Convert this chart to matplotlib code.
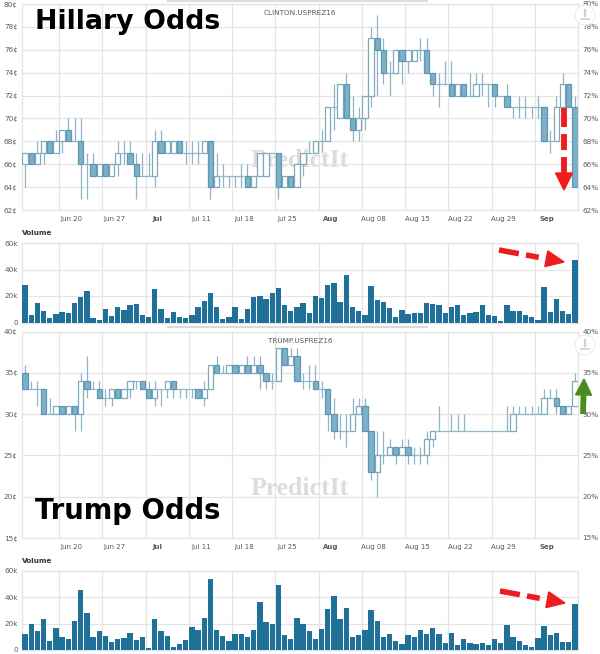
import matplotlib
matplotlib.use('Agg')
import numpy as np
import matplotlib.pyplot as plt
from matplotlib.patches import Polygon, Circle

W, H = 600, 654

# one candle per day, left to right
h_open = [66,67,66,67,68,67,68,69,68,68,66,66,65,66,65,66,67,67,66,65,65,65,68,67,67,68,67,67,67,67,
          68,64,65,65,65,65,65,64,65,65,67,67,64,65,64,66,67,67,68,68,71,70,73,70,69,70,72,77,76,74,
          74,76,75,75,76,76,74,73,73,73,72,73,72,72,73,73,73,72,72,71,71,71,71,71,71,68,68,71,73,71]
h_close = [67,66,67,68,67,68,69,68,68,66,66,65,66,65,66,67,67,66,65,65,65,68,67,68,68,67,67,67,67,68,
           64,65,65,65,65,65,64,65,67,67,67,64,65,64,66,67,67,68,68,71,71,73,70,69,70,72,77,76,74,74,
           76,75,76,76,76,74,73,73,73,72,73,72,72,73,73,73,72,72,71,71,71,71,71,71,68,68,71,73,71,64]
h_high = [67,67,68,68,68,69,69,70,70,70,67,67,66,66,66,68,68,68,67,67,67,69,69,68,68,68,68,68,68,68,
          68,67,66,65,65,66,66,65,67,67,67,67,65,65,66,67,68,68,69,71,73,73,74,72,71,72,78,79,77,75,
          76,76,76,76,77,77,74,74,75,75,73,73,74,74,74,73,73,72,73,71,72,72,71,72,71,69,72,74,73,72]
h_low = [64,66,66,66,67,67,67,68,68,63,63,65,65,65,65,65,66,66,63,65,65,64,67,67,67,67,66,66,66,67,
         63,64,64,64,64,64,64,64,65,65,67,63,64,64,64,65,67,67,67,68,69,70,70,68,68,69,71,72,73,72,
         74,73,74,75,75,74,72,71,73,72,72,72,72,72,72,71,71,72,71,70,70,70,70,70,68,67,68,71,71,64]
h_vol = [28.5,6,15,9,3.5,6.5,8,7,15,19,24,3.5,2,10.5,5,11.5,9.5,13,14,5.5,4,25.5,10.5,3.5,8,4.5,3.5,5.5,12,16.5,
         22,12,2.5,4,12,3,10.5,19.5,20,18,22,26,13.5,8.5,12,14.5,7,20,18.5,28,30,15.5,36,12,9,6,27.5,17,15.5,11,
         4,9.5,6.5,7.5,7.5,15,14,13,7,12,13.5,5.5,7,8,13.5,5.5,5,1.5,13.5,8.5,8.5,5.5,4.5,2,26.5,8,17.5,9,6.5,47.5]

t_open = [35,33,33,33,30,30,31,30,31,30,34,33,33,32,32,33,32,33,34,34,33,32,33,33,34,33,33,33,33,32,
          33,36,35,35,36,35,36,35,36,35,34,34,38,36,37,34,34,34,33,33,30,28,28,28,30,31,28,23,25,25,
          26,25,26,25,25,25,27,28,28,28,28,28,28,28,28,28,28,28,28,28,30,30,30,30,30,32,32,31,30,31]
t_close = [33,33,33,30,30,31,30,31,30,34,33,33,32,32,33,32,33,34,34,33,32,33,33,34,33,33,33,33,32,33,
           36,35,35,36,35,36,35,36,35,34,34,38,36,37,34,34,34,33,33,30,28,28,28,30,31,28,23,25,25,26,
           25,26,25,25,25,27,28,28,28,28,28,28,28,28,28,28,28,28,28,30,30,30,30,30,32,32,31,30,31,34]
t_high = [36,34,34,33,32,31,31,31,31,35,37,34,34,33,33,33,33,34,34,34,34,34,33,34,34,33,33,33,33,34,
          36,37,36,36,36,36,37,37,37,35,35,38,38,38,38,35,36,36,34,33,32,30,30,32,32,32,28,28,28,27,
          26,27,27,26,26,28,28,31,28,30,30,30,28,28,28,28,28,28,31,31,31,31,31,31,33,33,33,31,31,35]
t_low = [33,33,31,30,30,30,30,30,28,28,32,33,32,31,31,32,32,32,33,33,32,31,31,32,32,32,32,32,32,31,
         33,35,35,35,35,35,35,35,33,33,33,34,36,36,34,33,33,33,32,28,27,27,26,28,30,28,22,20,24,25,
         24,25,24,24,24,24,26,28,28,28,28,28,28,28,28,28,28,28,28,28,30,30,30,30,30,32,30,30,30,31]
t_vol = [12,20,14.5,23.5,7,16.5,9.5,8,22,45.5,28,9.5,14,10.5,6,8.5,9,12.5,7.5,9.5,1.5,23.5,14,10.5,2.5,4.5,7.5,17.5,15.5,24,
         54,15.5,10.5,6.5,12,12,9.5,15,36.5,21,20,49.5,11.5,8.5,24,20,14.5,8.5,16,31,41,23.5,32,9.5,11,15.5,30,22,9.5,12,
         6.5,4.5,11.5,9.5,15,12,16.5,12,5.5,13,4,8.5,5,4.5,5.5,3.5,8,5,19,9.5,6.5,3.5,2,9,18.5,11.5,12.5,6,6,35]

week_labels = ['Jun 20','Jun 27','Jul','Jul 11','Jul 18','Jul 25','Aug','Aug 08','Aug 15','Aug 22','Aug 29','Sep']
week_pos = np.arange(5.5, 83, 7)
h_ticks = list(range(62, 81, 2))
t_ticks = list(range(15, 41, 5))
vol_ticks = [0, 20, 40, 60]

GRID = '#e4e4e6'
TXT = '#5a5a5a'
UP_EDGE = '#7fa9bc'
DOWN_FACE = '#7db0c9'
DOWN_EDGE = '#5f97b3'
BAR = '#1f7199'


def make_axes(fig, top, bottom):
    ax = fig.add_axes([22 / W, 1 - bottom / H, 556 / W, (bottom - top) / H])
    ax.set_xlim(-0.5, 89.5)
    for s in ax.spines.values():
        s.set_color(GRID)
        s.set_linewidth(0.9)
    ax.set_xticks(week_pos)
    ax.set_xticklabels([])
    ax.tick_params(axis='x', which='major', length=0)
    ax.grid(True, color=GRID, lw=0.9)
    ax.set_axisbelow(True)
    return ax


def candles(ax, opens, closes, highs, lows):
    x = np.arange(len(opens))
    o = np.array(opens, float)
    c = np.array(closes, float)
    ax.vlines(x, lows, highs, color='#8fb4c5', lw=0.9, zorder=3)
    ax.hlines(o[o == c], x[o == c] - 0.5, x[o == c] + 0.5, color='#8fb4c5', lw=0.9, zorder=3)
    up = c > o
    dn = c < o
    ax.bar(x[up], (c - o)[up], bottom=o[up], width=0.86, facecolor='white', edgecolor=UP_EDGE, lw=0.9, zorder=4)
    ax.bar(x[dn], (o - c)[dn], bottom=c[dn], width=0.86, facecolor=DOWN_FACE, edgecolor=DOWN_EDGE, lw=0.9, zorder=4)


def price_panel(fig, top, bottom, opens, closes, highs, lows, ticks, name):
    ax = make_axes(fig, top, bottom)
    ax.set_ylim(ticks[0], ticks[-1])
    ax.set_yticks(ticks)
    ax.set_yticklabels(['%d¢' % t for t in ticks], fontsize=5.2, color=TXT)
    ax.tick_params(axis='y', length=0, pad=3)
    ax.set_xticks(week_pos + 1.95, week_labels, minor=True)
    ax.tick_params(axis='x', which='minor', length=0, labelsize=5, labelcolor=TXT, pad=4)
    for lab in ax.get_xticklabels(minor=True):
        if lab.get_text() in ('Jul', 'Aug', 'Sep'):
            lab.set_fontweight('bold')
    right = ax.twinx()
    right.set_ylim(ax.get_ylim())
    right.set_yticks(ticks)
    right.set_yticklabels(['%d%%' % t for t in ticks], fontsize=5.2, color=TXT)
    right.tick_params(axis='y', length=0, pad=3)
    for s in right.spines.values():
        s.set_visible(False)
    ax.text(0.5, 1 - 9 / (bottom - top), name, transform=ax.transAxes, ha='center', va='center',
            fontsize=5.2, color=TXT, zorder=6)
    ax.text(0.5, 0.24, 'PredictIt', transform=ax.transAxes, ha='center', va='center', fontsize=18.5,
            fontweight='bold', family='Liberation Serif', color='#dcdcdc', zorder=1)
    candles(ax, opens, closes, highs, lows)
    return ax


def volume_panel(fig, top, bottom, values):
    ax = make_axes(fig, top, bottom)
    ax.set_ylim(0, 60)
    ax.set_yticks(vol_ticks)
    ax.set_yticklabels(['0' if v == 0 else '%dk' % v for v in vol_ticks], fontsize=5.2, color=TXT)
    ax.tick_params(axis='y', length=0, pad=3)
    ax.bar(np.arange(len(values)), values, width=0.86, color=BAR, zorder=3)
    ax.text(0, 1 + 10 / (bottom - top), 'Volume', transform=ax.transAxes, ha='left', va='center',
            fontsize=5.2, fontweight='bold', color='#333333')
    return ax


def dashed_arrow(ax, x0, y0, x1, y1, dashes, head_len, head_w, lw, color):
    # dashes are fractions along the shaft, the head sits at the far end
    d = np.array([x1 - x0, y1 - y0], float)
    L = np.hypot(*d)
    u = d / L
    n = np.array([-u[1], u[0]])
    p0 = np.array([x0, y0], float)
    p1 = np.array([x1, y1], float)
    for a, b in dashes:
        s = p0 + u * (L - head_len) * a
        e = p0 + u * (L - head_len) * b
        ax.plot([s[0], e[0]], [s[1], e[1]], color=color, lw=lw, solid_capstyle='butt', zorder=10)
    base = p1 - u * head_len
    ax.add_patch(Polygon([p1, base + n * head_w / 2, base - n * head_w / 2], closed=True, color=color, zorder=10))


def main():
    fig = plt.figure(figsize=(W / 100, H / 100), dpi=100, facecolor='white')
    plt.rcParams['font.family'] = ['DejaVu Sans']

    price_panel(fig, 4, 210, h_open, h_close, h_high, h_low, h_ticks, 'CLINTON.USPREZ16')
    volume_panel(fig, 243, 322.5, h_vol)
    price_panel(fig, 331.7, 538, t_open, t_close, t_high, t_low, t_ticks, 'TRUMP.USPREZ16')
    volume_panel(fig, 570.7, 650, t_vol)

    over = fig.add_axes([0, 0, 1, 1], zorder=20)
    over.set_xlim(0, W)
    over.set_ylim(H, 0)
    over.axis('off')

    over.text(35, 22, 'Hillary Odds', fontsize=19.3, fontweight='bold', color='black', va='center')
    over.text(35, 511, 'Trump Odds', fontsize=19.8, fontweight='bold', color='black', va='center')

    # scrollbar strips and export buttons
    for y in (0.8, 327):
        over.plot([167, 428], [y, y], color='#dcdcdc', lw=1.6, solid_capstyle='butt')
    for y in (15, 345):
        over.add_patch(Circle((585, y), 10, facecolor='white', edgecolor='#ececec', lw=0.8))
        over.plot([585, 585], [y - 5, y + 1], color='#d0d0d0', lw=1.6)
        over.plot([581, 589], [y + 4, y + 4], color='#d0d0d0', lw=1.2)

    dashed_arrow(over, 564, 108, 564, 190, [(0, 0.29), (0.40, 0.64), (0.75, 1.0)], 17, 17, 4.2, '#ee1c1c')
    dashed_arrow(over, 499, 250, 564, 262, [(0, 0.42), (0.57, 0.84)], 18, 16, 4, '#ee1c1c')
    dashed_arrow(over, 500, 591, 565, 603, [(0, 0.42), (0.57, 0.84)], 18, 16, 4, '#ee1c1c')
    dashed_arrow(over, 583, 414, 584, 379, [(0, 1.0)], 16, 16, 4.2, '#4a8c1f')

    fig.savefig('out.png', dpi=100)


if __name__ == "__main__":
    main()
